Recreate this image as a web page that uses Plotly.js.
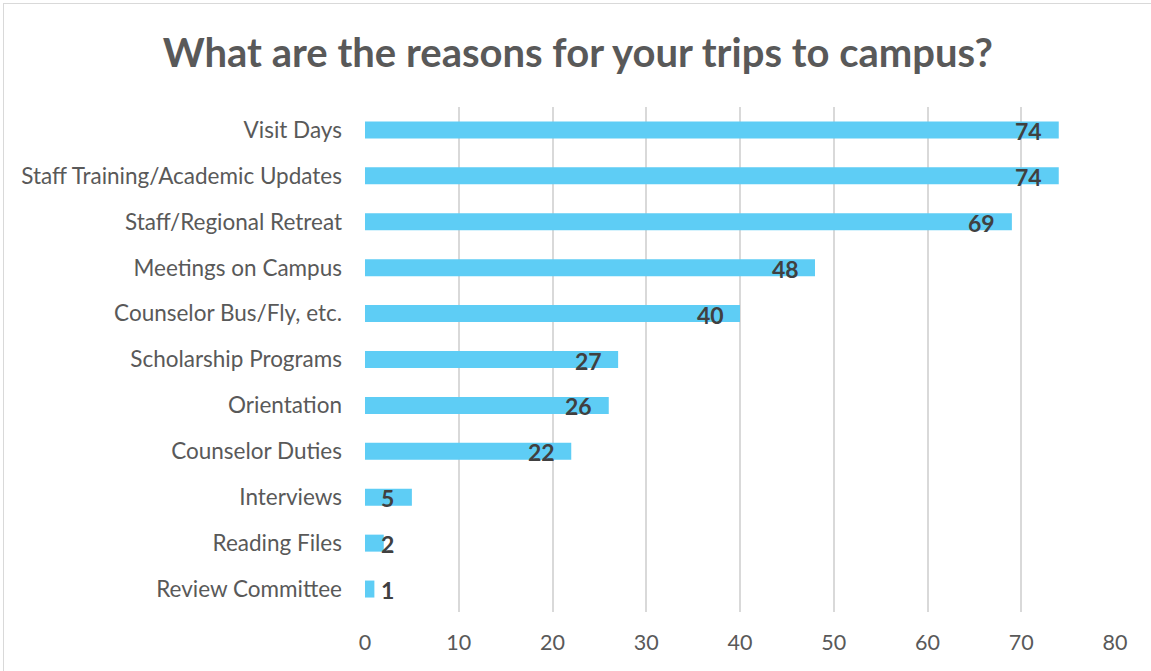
<!DOCTYPE html>
<html><head><meta charset="utf-8">
<script src="https://cdn.plot.ly/plotly-3.0.1.min.js"></script>
<style>
html,body{margin:0;padding:0;background:#fff;}
#frame{position:absolute;left:3px;top:3px;width:1160px;height:680px;border:1px solid #d9d9d9;box-sizing:border-box;}
#chart{position:absolute;left:0;top:0;width:1151px;height:671px;}
</style></head>
<body>
<div id="frame"></div>
<div id="chart"></div>
<script>
const categories = ["Visit Days","Staff Training/Academic Updates","Staff/Regional Retreat","Meetings on Campus","Counselor Bus/Fly, etc.","Scholarship Programs","Orientation","Counselor Duties","Interviews","Reading Files","Review Committee"];
const counts = [74,74,69,48,40,27,26,22,5,2,1];
const xTicks = [0,10,20,30,40,50,60,70,80];

const FONT = "Lato, 'Open Sans', sans-serif";
const trace = {
  type:'bar', orientation:'h', x:counts, y:categories,
  marker:{color:'#5ecdf5', line:{width:0}},
  hoverinfo:'x+y'
};
const annotations = categories.map((c,i)=>({
  x: Math.max(counts[i]-3.2, 2.35), y:c, xref:'x', yref:'y',
  text:'<b>'+counts[i]+'</b>', showarrow:false, xanchor:'center', yanchor:'middle',
  yshift:-1,
  font:{family:FONT, size:23, color:'#404040'}
}));
const layout = {
  width:1151, height:671,
  margin:{l:365, r:36, t:107, b:59},
  paper_bgcolor:'rgba(0,0,0,0)', plot_bgcolor:'rgba(0,0,0,0)',
  title:{text:'<b>What are the reasons for your trips to campus?</b>', x:0.502, xanchor:'center', y:0.921, yanchor:'middle',
    font:{family:FONT, size:40, color:'#595959'}},
  bargap:0.63,
  xaxis:{range:[0,80], tickvals:xTicks, ticktext:xTicks.map(String), showgrid:true, gridcolor:'#d9d9d9', gridwidth:2,
    zeroline:false, showline:false, ticks:'', ticklabelstandoff:15, tickfont:{family:FONT, size:21.5, color:'#595959'}, fixedrange:true},
  yaxis:{categoryorder:'array', categoryarray:categories, autorange:'reversed', showgrid:false, zeroline:false,
    ticks:'', ticklabelstandoff:22, tickfont:{family:FONT, size:22.5, color:'#595959'}, fixedrange:true},
  annotations:annotations,
  showlegend:false
};
Plotly.newPlot('chart',[trace],layout,{displayModeBar:false, staticPlot:true});
</script>
</body></html>
